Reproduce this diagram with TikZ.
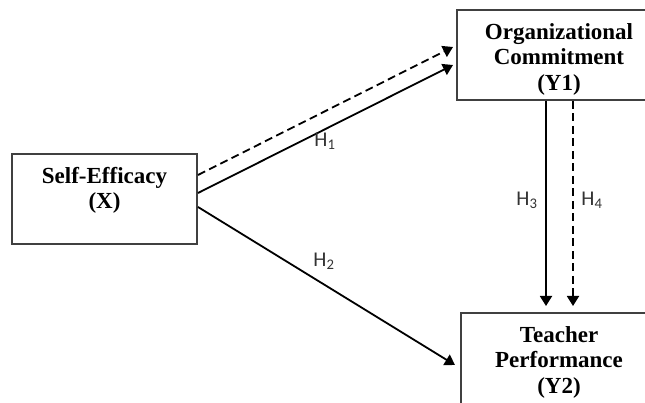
\documentclass[tikz,border=0pt]{standalone}
\usepackage{fontspec}
\setmainfont{Liberation Serif}
\newfontfamily\hypfont{Carlito}
\usetikzlibrary{arrows.meta,positioning}

\begin{document}
\begin{tikzpicture}[
    x=1pt, y=-1pt,
    node distance=13pt,
    box/.style={
      draw=black!75,
      line width=2pt,
      minimum height=90pt,
      inner sep=0pt,
    },
    boxtext/.style={
      font=\fontsize{23}{25.5}\selectfont\bfseries,
      align=center,
      inner sep=0pt,
    },
    hyp/.style={
      font=\hypfont\fontsize{21}{24}\selectfont,
      text=black!80,
      inner sep=0pt,
    },
    arrow/.style={
      -{Triangle[length=10pt,width=12pt]},
      line width=1.8pt,
    },
    dasharrow/.style={arrow, dash pattern=on 8pt off 4.5pt},
  ]
    \useasboundingbox (0,0) rectangle (645,403);
    % boxes
    \node[box, minimum width=185pt] (efficacy) at (104.5,199) {};
    \node[box, minimum width=204pt] (commit) at (559,55) {};
    \node[box, minimum width=196pt, minimum height=96pt] (perform) at (559,361) {};
    \node[boxtext, below=14pt of efficacy.north] (efficacy-text) {Self-Efficacy\\(X)};
    \node[boxtext, below=14pt of commit.north] (commit-text) {Organizational\\Commitment\\(Y1)};
    \node[boxtext, below=14pt of perform.north] (perform-text) {Teacher\\Performance\\(Y2)};
    % hypotheses
    \draw[dasharrow] ([yshift=24pt]efficacy.east) -- ([xshift=-3pt,yshift=8pt]commit.west);
    \draw[arrow] ([yshift=6pt]efficacy.east) -- ([xshift=-3pt,yshift=-10pt]commit.west);
    \draw[arrow] ([yshift=-8pt]efficacy.east) -- ([xshift=-5pt,yshift=-4pt]perform.west);
    \draw[arrow] ([xshift=-13pt]commit.south) -- ([xshift=-13pt,yshift=6pt]perform.north);
    \draw[dasharrow] ([xshift=14pt]commit.south) -- ([xshift=14pt,yshift=6pt]perform.north);
    \node[hyp] (h1) at (325,141) {H\textsubscript{1}};
    \node[hyp] (h2) at (324,261) {H\textsubscript{2}};
    \node[hyp] (h3) at (527,200) {H\textsubscript{3}};
    \node[hyp] (h4) at (592,200) {H\textsubscript{4}};
  \end{tikzpicture}
\end{document}
